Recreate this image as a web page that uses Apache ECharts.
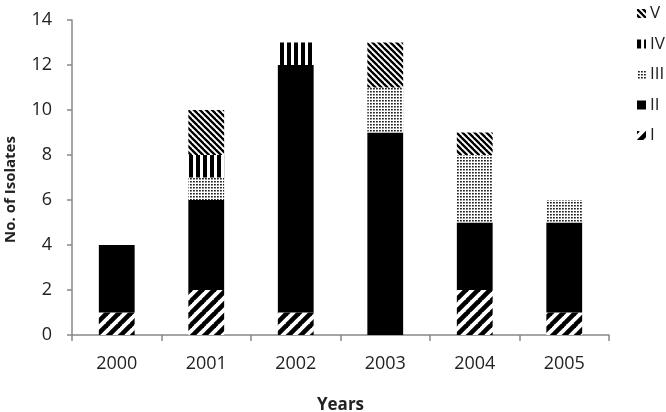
<!DOCTYPE html>
<html>
<head>
<meta charset="utf-8">
<script src="https://cdn.jsdelivr.net/npm/echarts@6/dist/echarts.min.js"></script>
<style>html,body{margin:0;padding:0;background:#fff}#c{width:666px;height:412px}</style>
</head>
<body>
<div id="c"></div>
<script>
var years = ['2000', '2001', '2002', '2003', '2004', '2005'];
var seriesNames = ['I', 'II', 'III', 'IV', 'V'];
var valuesI   = [1, 2, 1, 0, 2, 1];
var valuesII  = [3, 4, 11, 9, 3, 4];
var valuesIII = [0, 1, 0, 2, 3, 1];
var valuesIV  = [0, 1, 1, 0, 0, 0];
var valuesV   = [0, 2, 0, 2, 1, 0];
var yTicks = [0, 2, 4, 6, 8, 10, 12, 14];

function tile(w, h, draw) {
  var c = document.createElement('canvas');
  c.width = w; c.height = h;
  var ctx = c.getContext('2d');
  ctx.fillStyle = '#fff';
  ctx.fillRect(0, 0, w, h);
  ctx.fillStyle = '#000';
  ctx.strokeStyle = '#000';
  draw(ctx, w, h);
  return { image: c, repeat: 'repeat' };
}
// I: thick "/" stripes
var patI = tile(12, 12, function (ctx, w, h) {
  ctx.lineWidth = 4.6;
  [-12, 0, 12].forEach(function (o) {
    ctx.beginPath(); ctx.moveTo(o - 1, h + 1); ctx.lineTo(o + w + 1, -1); ctx.stroke();
  });
});
// III: fine dots
var patIII = tile(3, 3, function (ctx) {
  ctx.fillStyle = '#222';
  ctx.fillRect(1, 1, 1.8, 1.5);
});
// IV: vertical stripes
var patIV = tile(7, 7, function (ctx) {
  ctx.fillRect(0, 0, 4, 7);
});
// V: thin "\" stripes
var patV = tile(6, 6, function (ctx, w, h) {
  ctx.lineWidth = 2.3;
  [-6, 0, 6].forEach(function (o) {
    ctx.beginPath(); ctx.moveTo(o - 1, -1); ctx.lineTo(o + w + 1, h + 1); ctx.stroke();
  });
});

var fills = [patI, '#000', patIII, patIV, patV];
var allValues = [valuesI, valuesII, valuesIII, valuesIV, valuesV];
var FONT = '"Open Sans", "Liberation Sans", sans-serif';

var series = seriesNames.map(function (n, i) {
  return {
    name: n,
    type: 'bar',
    stack: 'total',
    barWidth: '40%',
    data: allValues[i],
    itemStyle: { color: fills[i] }
  };
});

var chart = echarts.init(document.getElementById('c'), null, { renderer: 'canvas' });
chart.setOption({
  animation: false,
  backgroundColor: '#fff',
  grid: { left: 72, right: 57, top: 20, bottom: 77, containLabel: false, outerBoundsMode: 'none' },
  legend: {
    data: seriesNames.slice().reverse(),
    orient: 'vertical',
    left: 632,
    top: 0,
    itemWidth: 9,
    itemHeight: 9,
    itemGap: 13.5,
    icon: 'rect',
    selectedMode: false,
    textStyle: { fontFamily: FONT, fontSize: 17, color: '#222', lineHeight: 17, padding: [0, 0, 0, -1] }
  },
  xAxis: {
    type: 'category',
    data: years,
    name: 'Years',
    nameLocation: 'middle',
    nameGap: 62,
    nameTextStyle: { fontFamily: FONT, fontSize: 17, fontWeight: 'bold', color: '#222' },
    axisLine: { lineStyle: { color: '#888', width: 1.5 } },
    axisTick: { show: true, length: 6, alignWithLabel: false, lineStyle: { color: '#888', width: 1.5 } },
    axisLabel: { fontFamily: FONT, fontSize: 18, color: '#222', margin: 20 }
  },
  yAxis: {
    type: 'value',
    min: yTicks[0],
    max: yTicks[yTicks.length - 1],
    interval: yTicks[1] - yTicks[0],
    name: 'No. of Isolates',
    nameLocation: 'middle',
    nameRotate: 90,
    nameGap: 54,
    nameTextStyle: { fontFamily: FONT, fontSize: 15, fontWeight: 'bold', color: '#222', padding: [0, 24, 0, 0] },
    splitLine: { show: false },
    axisLine: { show: true, lineStyle: { color: '#888', width: 1.5 } },
    axisTick: { show: true, length: 5, lineStyle: { color: '#888', width: 1.5 } },
    axisLabel: { fontFamily: FONT, fontSize: 18, color: '#222', margin: 20 }
  },
  series: series
});
</script>
</body>
</html>
